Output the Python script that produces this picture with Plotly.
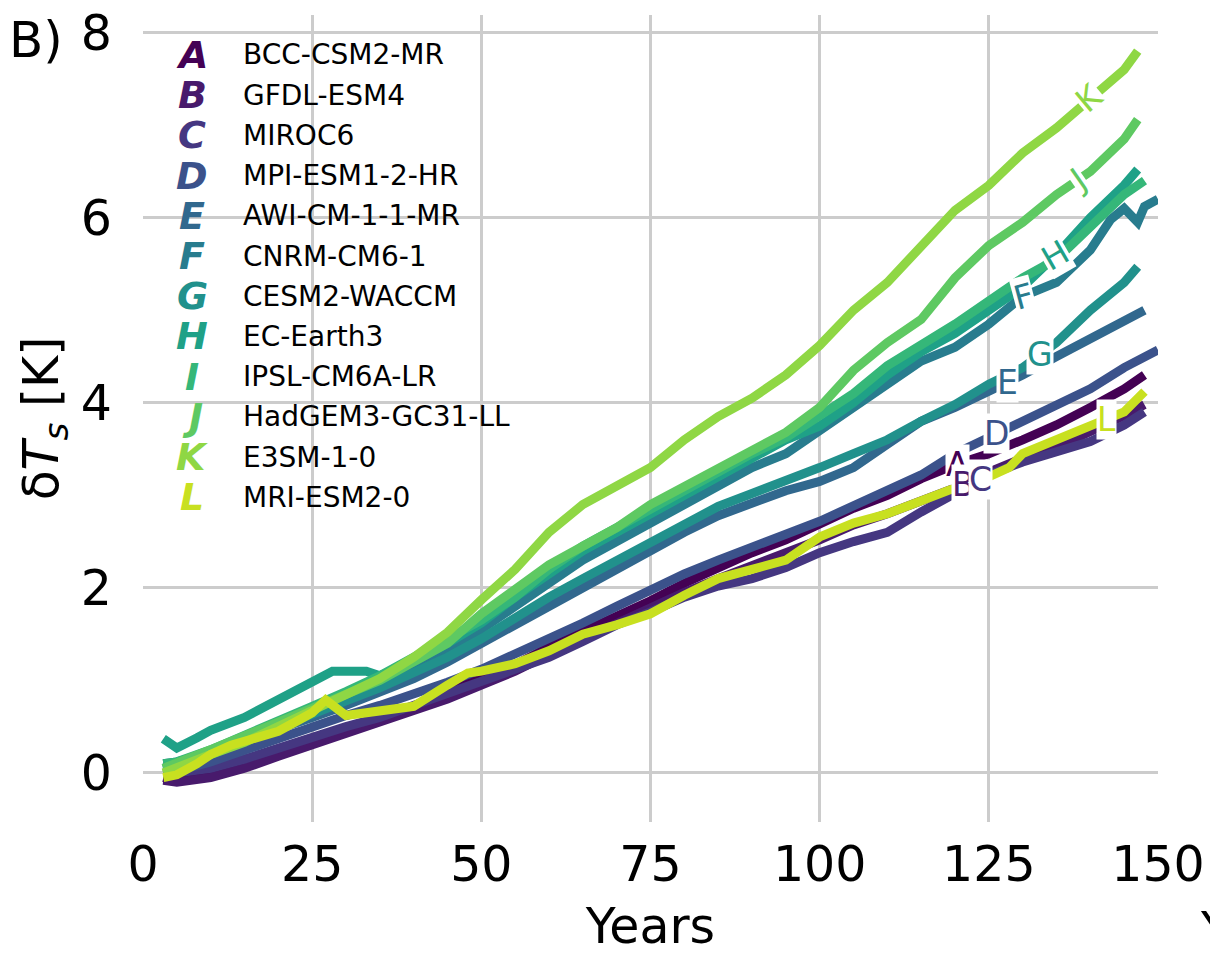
import numpy as np
import plotly.graph_objects as go

# ---------------- data ----------------
letters = ["A", "B", "C", "D", "E", "F", "G", "H", "I", "J", "K", "L"]
models = ["BCC-CSM2-MR", "GFDL-ESM4", "MIROC6", "MPI-ESM1-2-HR", "AWI-CM-1-1-MR",
          "CNRM-CM6-1", "CESM2-WACCM", "EC-Earth3", "IPSL-CM6A-LR",
          "HadGEM3-GC31-LL", "E3SM-1-0", "MRI-ESM2-0"]
colors = ["#440154", "#481a6c", "#453781", "#3b528b", "#31688e", "#287c8e",
          "#21918c", "#1fa187", "#35b779", "#5ec962", "#8fd744", "#c8e020"]

yrs = [3, 5, 10, 15, 20, 25, 30, 35, 40, 45, 50, 55, 60, 65, 70, 75, 80, 85,
       90, 95, 100, 105, 110, 115, 120, 125, 130, 135, 140, 145]

A_x = yrs + [148]
A_y = [-0.05, -0.08, -0.02, 0.10, 0.22, 0.33, 0.47, 0.60, 0.72, 0.88, 1.02, 1.17, 1.36, 1.52,
       1.70, 1.86, 2.05, 2.22, 2.38, 2.52, 2.70, 2.86, 3.00, 3.18, 3.33, 3.45, 3.60, 3.76,
       3.95, 4.15, 4.30]
B_x = yrs + [148]
B_y = [-0.08, -0.10, -0.05, 0.05, 0.18, 0.30, 0.42, 0.55, 0.68, 0.80, 0.95, 1.10, 1.28, 1.45,
       1.62, 1.80, 1.95, 2.10, 2.25, 2.38, 2.52, 2.68, 2.80, 2.93, 3.08, 3.25, 3.40, 3.52,
       3.68, 3.86, 3.98]
C_x = yrs + [148]
C_y = [-0.02, 0.00, 0.05, 0.15, 0.27, 0.38, 0.50, 0.60, 0.73, 0.85, 0.98, 1.10, 1.25, 1.42,
       1.60, 1.74, 1.90, 2.02, 2.10, 2.22, 2.38, 2.50, 2.60, 2.82, 3.02, 3.22, 3.36, 3.48,
       3.58, 3.76, 3.90]
D_x = yrs + [150]
D_y = [0.00, 0.02, 0.12, 0.25, 0.38, 0.50, 0.62, 0.73, 0.85, 0.98, 1.12, 1.28, 1.45, 1.62,
       1.80, 1.98, 2.15, 2.30, 2.45, 2.58, 2.72, 2.88, 3.05, 3.22, 3.45, 3.62, 3.80, 3.98,
       4.15, 4.38, 4.57]
E_x = yrs + [148]
E_y = [0.05, 0.10, 0.20, 0.33, 0.47, 0.60, 0.73, 0.87, 1.02, 1.20, 1.40, 1.60, 1.82, 2.02,
       2.22, 2.42, 2.60, 2.78, 2.92, 3.05, 3.15, 3.30, 3.55, 3.80, 3.95, 4.12, 4.30, 4.50,
       4.70, 4.90, 5.00]
F_x = yrs[:-1] + [143, 145, 147, 148, 150]
F_y = [0.10, 0.12, 0.22, 0.38, 0.52, 0.68, 0.82, 0.98, 1.15, 1.35, 1.55, 1.80, 2.05, 2.30,
       2.50, 2.70, 2.90, 3.10, 3.30, 3.45, 3.70, 3.95, 4.20, 4.45, 4.60, 4.85, 5.15, 5.30,
       5.65, 5.98, 6.10, 5.95, 6.12, 6.20]
G_x = yrs + [147]
G_y = [0.10, 0.08, 0.20, 0.35, 0.50, 0.65, 0.78, 0.92, 1.08, 1.25, 1.45, 1.68, 1.90, 2.10,
       2.30, 2.50, 2.70, 2.88, 3.02, 3.15, 3.30, 3.45, 3.60, 3.80, 3.98, 4.20, 4.38, 4.65,
       5.00, 5.30, 5.47]
H_x = [3, 5, 8, 10, 15, 20, 25, 28, 30, 33, 35, 40, 45, 50, 55, 60, 65, 70, 75, 80, 85, 90,
       95, 100, 105, 110, 115, 120, 125, 130, 135, 140, 145, 147]
H_y = [0.37, 0.27, 0.38, 0.46, 0.60, 0.80, 1.00, 1.10, 1.10, 1.10, 1.05, 1.20, 1.40, 1.62,
       1.90, 2.15, 2.40, 2.60, 2.80, 3.00, 3.20, 3.40, 3.60, 3.75, 4.00, 4.30, 4.55, 4.75,
       5.00, 5.25, 5.60, 6.00, 6.35, 6.52]
I_x = yrs + [148]
I_y = [0.10, 0.12, 0.25, 0.40, 0.55, 0.72, 0.88, 1.05, 1.25, 1.45, 1.65, 1.90, 2.20, 2.45,
       2.65, 2.85, 3.05, 3.25, 3.45, 3.62, 3.85, 4.10, 4.40, 4.62, 4.85, 5.10, 5.35, 5.55,
       5.90, 6.25, 6.40]
J_x = yrs + [147]
J_y = [0.05, 0.10, 0.25, 0.40, 0.55, 0.72, 0.85, 1.00, 1.20, 1.40, 1.72, 2.00, 2.25, 2.45,
       2.65, 2.90, 3.10, 3.30, 3.50, 3.68, 3.95, 4.35, 4.65, 4.90, 5.35, 5.70, 5.95, 6.25,
       6.50, 6.85, 7.06]
K_x = yrs + [147]
K_y = [0.00, 0.05, 0.20, 0.33, 0.50, 0.68, 0.86, 1.02, 1.25, 1.52, 1.87, 2.20, 2.60, 2.90,
       3.10, 3.30, 3.60, 3.85, 4.05, 4.30, 4.62, 5.00, 5.30, 5.70, 6.08, 6.35, 6.70, 6.97,
       7.30, 7.60, 7.80]
L_x = [3, 5, 8, 10, 13, 15, 20, 25, 27, 30, 33, 35, 40, 45, 48, 50, 55, 60, 65, 70, 75, 80,
       85, 90, 95, 100, 105, 110, 115, 120, 125, 128, 130, 135, 140, 145, 148]
L_y = [-0.05, -0.02, 0.10, 0.20, 0.30, 0.35, 0.45, 0.65, 0.79, 0.62, 0.65, 0.66, 0.72, 0.95,
       1.08, 1.10, 1.18, 1.32, 1.50, 1.60, 1.72, 1.92, 2.10, 2.20, 2.30, 2.55, 2.70, 2.80,
       2.95, 3.08, 3.20, 3.30, 3.45, 3.60, 3.75, 3.90, 4.12]

series_x = [A_x, B_x, C_x, D_x, E_x, F_x, G_x, H_x, I_x, J_x, K_x, L_x]
series_y = [A_y, B_y, C_y, D_y, E_y, F_y, G_y, H_y, I_y, J_y, K_y, L_y]

# in-line label positions (year) and rotation
label_x = {"A": 120.3, "B": 121.2, "C": 123.7, "D": 126.2, "E": 127.8, "F": 130.1,
           "G": 132.6, "H": 134.8, "J": 138.2, "K": 139.9, "L": 142.4}
label_rot = {"A": 0, "B": 0, "C": 0, "D": 0, "E": 0, "F": -15, "G": 0, "H": -30,
             "J": -35, "K": -40, "L": 0}

FONT = "DejaVu Sans"

fig = go.Figure()
for let, name, col, xs, ys in zip(letters, models, colors, series_x, series_y):
    fig.add_trace(go.Scatter(x=xs, y=ys, mode="lines", name=name,
                             line=dict(color=col, width=9), showlegend=False))

annotations = []
# in-line labels
for let, col, xs, ys in zip(letters, colors, series_x, series_y):
    if let not in label_x:
        continue
    lx = label_x[let]
    ly = float(np.interp(lx, xs, ys))
    annotations.append(dict(x=lx, y=ly, xref="x", yref="y", text=let, showarrow=False,
                            font=dict(family=FONT, size=33, color=col),
                            bgcolor="white", borderpad=0, textangle=label_rot[let]))

# legend (letters + names)
ax_l, ax_r, ax_t, ax_b = 143, 1158, 15, 822
W, H = ax_r - ax_l, ax_b - ax_t
for i, (let, name, col) in enumerate(zip(letters, models, colors)):
    py = 55 + i * 40.2
    yp = (ax_b - py) / H
    annotations.append(dict(x=(192 - ax_l) / W, y=yp, xref="paper", yref="paper",
                            text="<b><i>%s</i></b>" % let, showarrow=False,
                            xanchor="center", yanchor="middle",
                            font=dict(family=FONT, size=38, color=col)))
    annotations.append(dict(x=(241 - ax_l) / W, y=yp, xref="paper", yref="paper",
                            text=name, showarrow=False, xanchor="left", yanchor="middle",
                            font=dict(family=FONT, size=28, color="black")))

# panel letter
annotations.append(dict(x=(7 - ax_l) / W, y=(ax_b - 40) / H, xref="paper", yref="paper",
                        text="B)", showarrow=False, xanchor="left", yanchor="middle",
                        font=dict(family=FONT, size=50, color="black")))
# neighbour panel's cut-off x title
annotations.append(dict(x=(1198 - ax_l) / W, y=(ax_b - 930) / H, xref="paper", yref="paper",
                        text="Years", showarrow=False, xanchor="left", yanchor="middle",
                        font=dict(family=FONT, size=49, color="black")))

fig.update_layout(
    width=1210, height=955,
    margin=dict(l=ax_l, r=1210 - ax_r, t=ax_t, b=955 - ax_b),
    paper_bgcolor="white", plot_bgcolor="white",
    font=dict(family=FONT, size=49, color="black"),
    annotations=annotations,
)
fig.update_xaxes(range=[0, 150], tickvals=[0, 25, 50, 75, 100, 125, 150],
                 showgrid=True, gridcolor="#cccccc", gridwidth=3, zeroline=False,
                 showline=False, ticks="", ticklabelstandoff=9, automargin=False,
                 ticklabeloverflow="allow",
                 tickfont=dict(family=FONT, size=49, color="black"),
                 title=dict(text="Years", font=dict(family=FONT, size=49, color="black"),
                            standoff=16))
fig.update_yaxes(range=[-0.53, 8.19], tickvals=[0, 2, 4, 6, 8],
                 showgrid=True, gridcolor="#cccccc", gridwidth=3, zeroline=False,
                 showline=False, ticks="", ticklabelstandoff=30, automargin=False,
                 tickfont=dict(family=FONT, size=49, color="black"),
                 title=dict(text="δ<i>T</i><sub><i>s</i></sub> [K]",
                            font=dict(family=FONT, size=49, color="black"), standoff=6))

fig.write_html("out.html", config={"displayModeBar": False},
               post_script="document.body.style.margin='0px';")
